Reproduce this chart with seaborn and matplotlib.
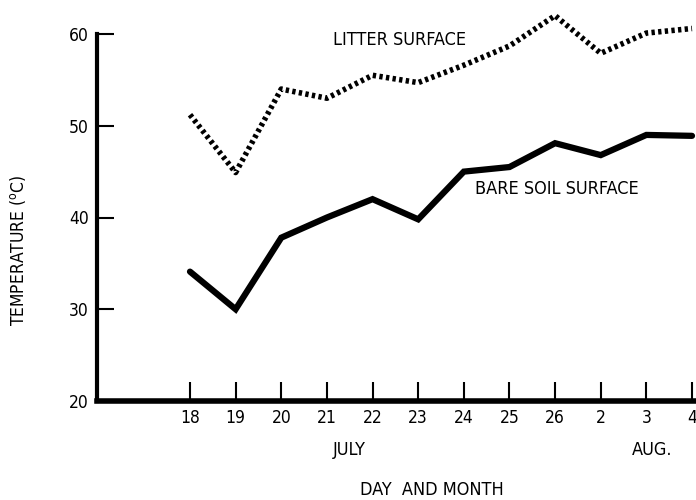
import matplotlib
matplotlib.use("Agg")
import matplotlib.pyplot as plt
import numpy as np
import pandas as pd
import seaborn as sns

# Observation days (July 18-26, August 2-4)
day_labels = ["18", "19", "20", "21", "22", "23", "24", "25", "26", "2", "3", "4"]
litter_surface = [51.2, 44.9, 54.0, 53.0, 55.5, 54.7, 56.6, 58.7, 62.0, 57.9, 60.1, 60.6]
bare_soil_surface = [34.1, 30.0, 37.8, 40.0, 42.0, 39.8, 45.0, 45.5, 48.1, 46.8, 49.0, 48.9]
y_ticks = [20, 30, 40, 50, 60]

sns.set_style("ticks")
plt.rcParams["font.family"] = ["DejaVu Sans"]
plt.rcParams["font.stretch"] = "condensed"
plt.rcParams["text.color"] = "black"
plt.rcParams["axes.labelcolor"] = "black"
plt.rcParams["xtick.color"] = "black"
plt.rcParams["ytick.color"] = "black"

idx = np.arange(len(day_labels))
df = pd.DataFrame({
    "idx": np.concatenate([idx, idx]),
    "temp": litter_surface + bare_soil_surface,
    "series": ["litter"] * len(idx) + ["bare"] * len(idx),
})

fig = plt.figure(figsize=(6.96, 5.0), dpi=100)
ax = fig.add_axes([97 / 696, 1 - 401 / 500, 1 - 97 / 696, (401 - 34) / 500])

sns.lineplot(data=df[df.series == "bare"], x="idx", y="temp", ax=ax,
             color="black", linewidth=4.5, solid_joinstyle="miter",
             legend=False, clip_on=False)
sns.lineplot(data=df[df.series == "litter"], x="idx", y="temp", ax=ax,
             color="black", linewidth=4.0, legend=False, clip_on=False,
             dashes=False)
ax.lines[-1].set_dashes([0.6, 0.6])

ax.set_xlim(-93 / 45.64, 11 + 4 / 45.64)
ax.set_ylim(20, 60)

ax.set_xticks(idx)
ax.set_xticklabels(day_labels, fontsize=12.5)
ax.set_yticks(y_ticks)
ax.set_yticklabels([str(v) for v in y_ticks], fontsize=12.5)

ax.tick_params(axis="x", direction="in", length=14, width=1.5, pad=6)
ax.tick_params(axis="y", direction="in", length=12, width=1.5, pad=6)

for side in ["top", "right"]:
    ax.spines[side].set_visible(False)
ax.spines["left"].set_linewidth(3)
ax.spines["bottom"].set_linewidth(4)
ax.spines["left"].set_color("black")
ax.spines["bottom"].set_color("black")
ax.set_facecolor("white")

ax.set_xlabel("DAY  AND MONTH", fontsize=13)
ax.xaxis.set_label_coords((432 - 97) / 599, -(490 - 401) / 367)
ax.xaxis.label.set_va("center")
ax.set_ylabel("TEMPERATURE ($^{\\rm o}$C)", fontsize=12.5)
ax.yaxis.set_label_coords(-(97 - 18) / 599, (401 - 250) / 367)
ax.yaxis.label.set_va("center")

ax.text(3.5, -0.134, "JULY", transform=ax.get_xaxis_transform(),
        ha="center", va="center", fontsize=13)
ax.text(10.12, -0.134, "AUG.", transform=ax.get_xaxis_transform(),
        ha="center", va="center", fontsize=13)

ax.text(3.13, 59.4, "LITTER SURFACE", ha="left", va="center", fontsize=13)
ax.text(6.25, 43.1, "BARE SOIL SURFACE", ha="left", va="center", fontsize=13)

fig.savefig("out.png", dpi=100, facecolor="white")
